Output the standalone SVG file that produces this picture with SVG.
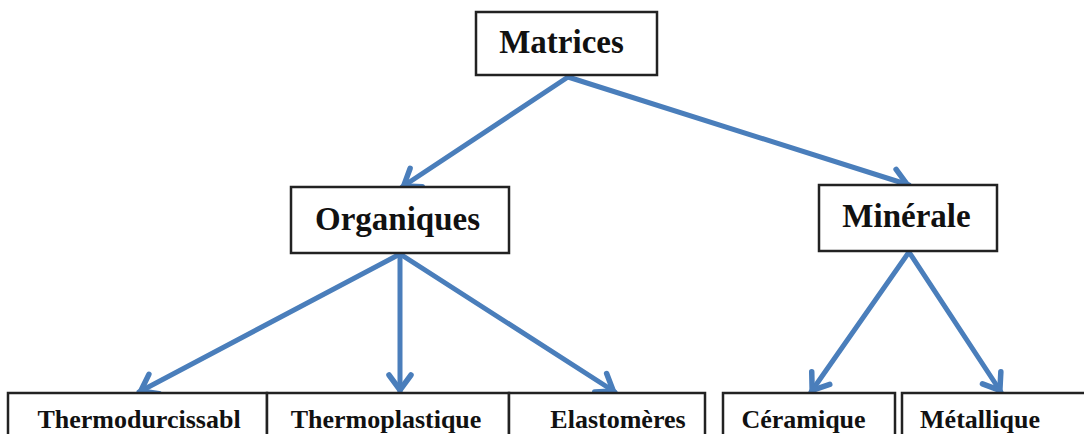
<svg xmlns="http://www.w3.org/2000/svg" width="1084" height="434" viewBox="0 0 1084 434">
<defs>
<marker id="ah" markerUnits="userSpaceOnUse" markerWidth="44" markerHeight="44" viewBox="-22 -22 44 44" refX="0" refY="0" orient="auto">
<path d="M-17,-11 L-2,0 L-17,11" fill="none" stroke="#4a7ebb" stroke-width="5.5" stroke-linecap="round" stroke-linejoin="round"/>
</marker>
</defs>
<style>
.box{fill:#fff;stroke:#222;stroke-width:2.5}
.t{font-family:"Liberation Serif","Times New Roman",serif;font-weight:bold;fill:#111;text-anchor:middle}
.big{font-size:33px}
.small{font-size:26px}
.c{stroke:#4a7ebb;stroke-width:5;fill:none;stroke-linecap:round;marker-end:url(#ah)}
</style>
<rect width="1084" height="434" fill="#fff"/>
<g id="connectors">
<line class="c" x1="568" y1="77" x2="402" y2="187"/>
<line class="c" x1="568" y1="77" x2="909" y2="185"/>
<line class="c" x1="400" y1="254" x2="139" y2="392"/>
<line class="c" x1="400" y1="254" x2="400" y2="392"/>
<line class="c" x1="400" y1="254" x2="615" y2="392"/>
<line class="c" x1="909" y1="252" x2="811" y2="392"/>
<line class="c" x1="909" y1="252" x2="1001" y2="392"/>
</g>
<g id="matrices">
<rect class="box" x="476" y="12" width="181" height="63"/>
<text class="t big" x="561.5" y="53">Matrices</text>
</g>
<g id="organiques">
<rect class="box" x="291" y="187" width="218" height="66"/>
<text class="t big" x="397.5" y="230">Organiques</text>
</g>
<g id="minerale">
<rect class="box" x="819" y="185" width="178" height="66"/>
<text class="t big" x="906.5" y="227">Minérale</text>
</g>
<g id="thermodurcissabl">
<rect class="box" x="8" y="393" width="259" height="60"/>
<text class="t small" x="139" y="428">Thermodurcissabl</text>
</g>
<g id="thermoplastique">
<rect class="box" x="267" y="393" width="242" height="60"/>
<text class="t small" x="386" y="428">Thermoplastique</text>
</g>
<g id="elastomeres">
<rect class="box" x="509" y="393" width="196" height="60"/>
<text class="t small" x="618" y="428">Elastomères</text>
</g>
<g id="ceramique">
<rect class="box" x="723" y="393" width="172" height="60"/>
<text class="t small" x="803.5" y="428">Céramique</text>
</g>
<g id="metallique">
<rect class="box" x="902" y="393" width="200" height="60"/>
<text class="t small" x="980" y="428">Métallique</text>
</g>
</svg>
